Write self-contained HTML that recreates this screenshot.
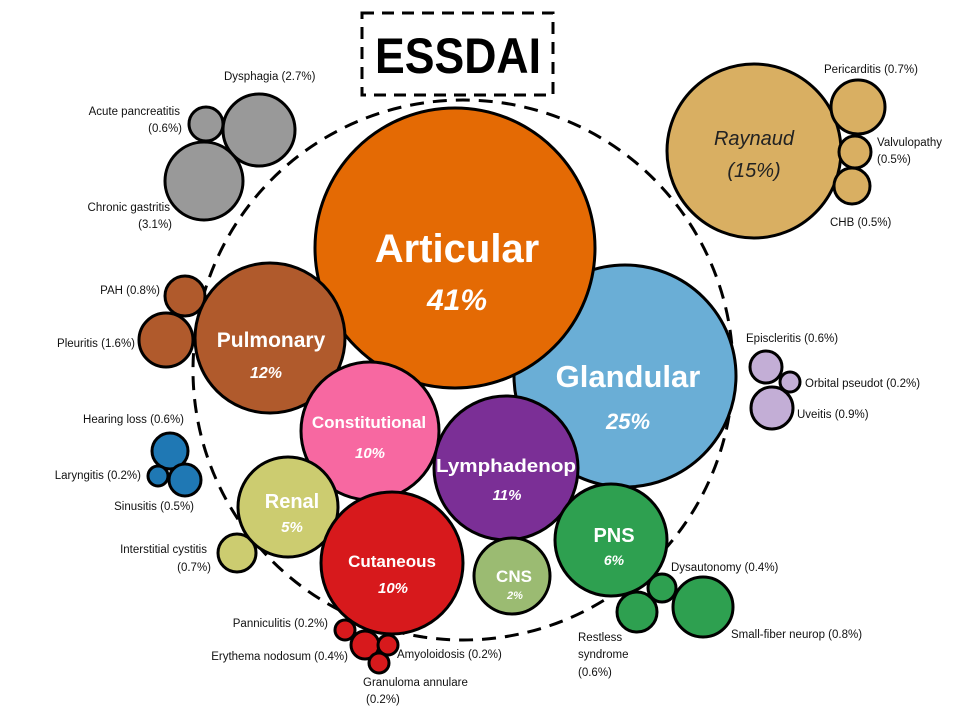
<!DOCTYPE html>
<html><head><meta charset="utf-8"><style>
html,body{margin:0;padding:0;background:#fff;}
svg{display:block;}
text{font-family:"Liberation Sans",sans-serif;}
.l{font-size:11.5px;fill:#111;}
.b{font-weight:bold;fill:#fff;}
.p{font-weight:bold;font-style:italic;fill:#fff;}
</style></head><body>
<svg width="960" height="720" viewBox="0 0 960 720" xmlns="http://www.w3.org/2000/svg">
<rect width="960" height="720" fill="#fff"/>
<g stroke="#000" stroke-width="3">
<circle cx="463" cy="370" r="270" fill="none" stroke-dasharray="14,9"/>
<rect x="362" y="13" width="191" height="82" fill="#fff" stroke-dasharray="12,8"/>
<circle cx="206" cy="124" r="17" fill="#999"/>
<circle cx="259" cy="130" r="36" fill="#999"/>
<circle cx="204" cy="181" r="39" fill="#999"/>
<circle cx="185" cy="296" r="20" fill="#B05A2C"/>
<circle cx="166" cy="340" r="27" fill="#B05A2C"/>
<circle cx="170" cy="451" r="18" fill="#1F78B4"/>
<circle cx="158" cy="476" r="10" fill="#1F78B4"/>
<circle cx="185" cy="480" r="16" fill="#1F78B4"/>
<circle cx="237" cy="553" r="19" fill="#CCCC70"/>
<circle cx="345" cy="630" r="10" fill="#D7191C"/>
<circle cx="365" cy="645" r="14" fill="#D7191C"/>
<circle cx="388" cy="645" r="10" fill="#D7191C"/>
<circle cx="379" cy="663" r="10" fill="#D7191C"/>
<circle cx="754" cy="151" r="87" fill="#D9AF62"/>
<circle cx="858" cy="107" r="27" fill="#D9AF62"/>
<circle cx="855" cy="152" r="16" fill="#D9AF62"/>
<circle cx="852" cy="186" r="18" fill="#D9AF62"/>
<circle cx="766" cy="367" r="16" fill="#C3AED6"/>
<circle cx="790" cy="382" r="10" fill="#C3AED6"/>
<circle cx="772" cy="408" r="21" fill="#C3AED6"/>
<circle cx="637" cy="612" r="20" fill="#2EA050"/>
<circle cx="662" cy="588" r="14" fill="#2EA050"/>
<circle cx="703" cy="607" r="30" fill="#2EA050"/>
<circle cx="625" cy="376" r="111" fill="#6AAED6"/>
<circle cx="455" cy="248" r="140" fill="#E46A04"/>
<circle cx="270" cy="338" r="75" fill="#B05A2C"/>
<circle cx="370" cy="431" r="69" fill="#F768A1"/>
<circle cx="506" cy="468" r="72" fill="#7B2F96"/>
<circle cx="288" cy="507" r="50" fill="#CCCC70"/>
<circle cx="392" cy="563" r="71" fill="#D7191C"/>
<circle cx="512" cy="576" r="38" fill="#9BBB72"/>
<circle cx="611" cy="540" r="56" fill="#2EA050"/>
</g>
<text x="375" y="73" font-size="50" font-weight="bold" fill="#000" textLength="166" lengthAdjust="spacingAndGlyphs">ESSDAI</text>
<text x="457" y="262" text-anchor="middle" font-size="40" class="b">Articular</text>
<text x="457" y="310" text-anchor="middle" font-size="30" class="p">41%</text>
<text x="628" y="387" text-anchor="middle" font-size="31" class="b">Glandular</text>
<text x="628" y="429" text-anchor="middle" font-size="22" class="p">25%</text>
<text x="271" y="347" text-anchor="middle" font-size="21" class="b">Pulmonary</text>
<text x="266" y="378" text-anchor="middle" font-size="16" class="p">12%</text>
<text x="369" y="428" text-anchor="middle" font-size="17" class="b">Constitutional</text>
<text x="370" y="458" text-anchor="middle" font-size="15" class="p">10%</text>
<text x="506" y="472" text-anchor="middle" font-size="18" class="b" textLength="140" lengthAdjust="spacingAndGlyphs">Lymphadenop</text>
<text x="507" y="500" text-anchor="middle" font-size="15" class="p">11%</text>
<text x="292" y="508" text-anchor="middle" font-size="20" class="b">Renal</text>
<text x="292" y="532" text-anchor="middle" font-size="15" class="p">5%</text>
<text x="392" y="567" text-anchor="middle" font-size="17" class="b">Cutaneous</text>
<text x="393" y="593" text-anchor="middle" font-size="15" class="p">10%</text>
<text x="514" y="582" text-anchor="middle" font-size="17" class="b">CNS</text>
<text x="515" y="599" text-anchor="middle" font-size="11" class="p">2%</text>
<text x="614" y="542" text-anchor="middle" font-size="20" class="b">PNS</text>
<text x="614" y="565" text-anchor="middle" font-size="14" class="p">6%</text>
<text x="754" y="145" text-anchor="middle" font-size="20" font-style="italic" fill="#222">Raynaud</text>
<text x="754" y="177" text-anchor="middle" font-size="20" font-style="italic" fill="#222">(15%)</text>
<g class="l">
<text x="224" y="80">Dysphagia (2.7%)</text>
<text x="180" y="115" text-anchor="end">Acute pancreatitis</text>
<text x="182" y="132" text-anchor="end">(0.6%)</text>
<text x="170" y="211" text-anchor="end">Chronic  gastritis</text>
<text x="172" y="228" text-anchor="end">(3.1%)</text>
<text x="160" y="294" text-anchor="end">PAH (0.8%)</text>
<text x="135" y="347" text-anchor="end">Pleuritis (1.6%)</text>
<text x="184" y="423" text-anchor="end">Hearing loss (0.6%)</text>
<text x="141" y="479" text-anchor="end">Laryngitis (0.2%)</text>
<text x="194" y="510" text-anchor="end">Sinusitis (0.5%)</text>
<text x="207" y="553" text-anchor="end">Interstitial cystitis</text>
<text x="211" y="571" text-anchor="end">(0.7%)</text>
<text x="328" y="627" text-anchor="end">Panniculitis (0.2%)</text>
<text x="348" y="660" text-anchor="end">Erythema nodosum (0.4%)</text>
<text x="397" y="658">Amyoloidosis (0.2%)</text>
<text x="363" y="686">Granuloma annulare</text>
<text x="366" y="703">(0.2%)</text>
<text x="824" y="73">Pericarditis (0.7%)</text>
<text x="877" y="146">Valvulopathy</text>
<text x="877" y="163">(0.5%)</text>
<text x="830" y="226">CHB (0.5%)</text>
<text x="746" y="342">Episcleritis (0.6%)</text>
<text x="805" y="387">Orbital pseudot (0.2%)</text>
<text x="797" y="418">Uveitis (0.9%)</text>
<text x="671" y="571">Dysautonomy (0.4%)</text>
<text x="731" y="638">Small-fiber neurop (0.8%)</text>
<text x="578" y="641">Restless</text>
<text x="578" y="658">syndrome</text>
<text x="578" y="676">(0.6%)</text>
</g>
</svg>
</body></html>
